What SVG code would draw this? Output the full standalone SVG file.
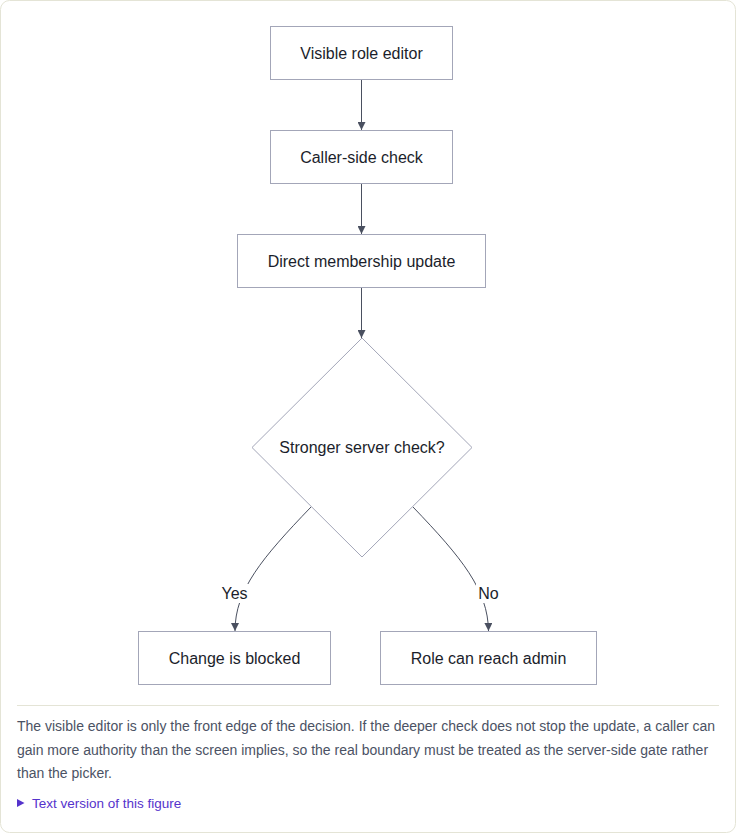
<svg xmlns="http://www.w3.org/2000/svg" width="736" height="833" viewBox="0 0 736 833">
<style>
.node{fill:#fff;stroke:#a3a6b8;stroke-width:1}
.lbl{font-family:"Liberation Sans",Arial,sans-serif;font-size:16px;fill:#1b1e2b;text-anchor:middle;dominant-baseline:central}
.edge{fill:none;stroke:#4a5060;stroke-width:1}
.elbl{font-family:"Liberation Sans",Arial,sans-serif;font-size:16px;fill:#1b1e2b;text-anchor:middle;dominant-baseline:central}
.cap{font-family:"Liberation Sans",Arial,sans-serif;font-size:14px;fill:#4b5264}
.link{font-family:"Liberation Sans",Arial,sans-serif;font-size:13.5px;fill:#5533cc}
</style>
<defs>
<marker id="arr" viewBox="0 0 10 10" refX="10" refY="5" markerWidth="8" markerHeight="8" markerUnits="userSpaceOnUse" orient="auto">
<path d="M0,0 L10,5 L0,10 z" fill="#4a5060"/>
</marker>
</defs>
<rect x="0.5" y="0.5" width="735" height="832" rx="9" fill="#fff" stroke="#e4e4d6"/>
<g id="connectors">
<path class="edge" d="M361.5,80 L361.5,130" marker-end="url(#arr)"/>
<path class="edge" d="M361.5,184 L361.5,234" marker-end="url(#arr)"/>
<path class="edge" d="M361.5,288 L361.5,338" marker-end="url(#arr)"/>
<path class="edge" d="M311,507 C262,558 235,590 235,631" marker-end="url(#arr)"/>
<path class="edge" d="M413,507 C462,558 488,590 488.5,631" marker-end="url(#arr)"/>
<g id="label-yes"><rect x="219" y="584" width="31" height="19" fill="#fff"/><text class="elbl" x="234.5" y="593.5">Yes</text></g>
<g id="label-no"><rect x="476" y="584" width="25" height="19" fill="#fff"/><text class="elbl" x="488.5" y="593.5">No</text></g>
</g>
<g id="n1"><rect class="node" x="270.5" y="26.5" width="182" height="53"/><text class="lbl" x="361.5" y="53">Visible role editor</text></g>
<g id="n2"><rect class="node" x="270.5" y="130.5" width="182" height="53"/><text class="lbl" x="361.5" y="157">Caller-side check</text></g>
<g id="n3"><rect class="node" x="237.5" y="234.5" width="248" height="53"/><text class="lbl" x="361.5" y="261">Direct membership update</text></g>
<g id="n4"><polygon class="node" points="362,338 472,447.5 362,557 252,447.5"/><text class="lbl" x="362" y="447.5">Stronger server check?</text></g>
<g id="n5"><rect class="node" x="138.5" y="631.5" width="192" height="53"/><text class="lbl" x="234.5" y="658">Change is blocked</text></g>
<g id="n6"><rect class="node" x="380.5" y="631.5" width="216" height="53"/><text class="lbl" x="488.5" y="658">Role can reach admin</text></g>
<line x1="17" y1="705.5" x2="719" y2="705.5" stroke="#e4e4d6"/>
<text class="cap" x="17" y="731">The visible editor is only the front edge of the decision. If the deeper check does not stop the update, a caller can</text>
<text class="cap" x="17" y="754.5">gain more authority than the screen implies, so the real boundary must be treated as the server-side gate rather</text>
<text class="cap" x="17" y="778">than the picker.</text>
<path d="M17,799 L24.5,803 L17,807 z" fill="#5533cc"/>
<text class="link" x="32" y="808">Text version of this figure</text>
</svg>
